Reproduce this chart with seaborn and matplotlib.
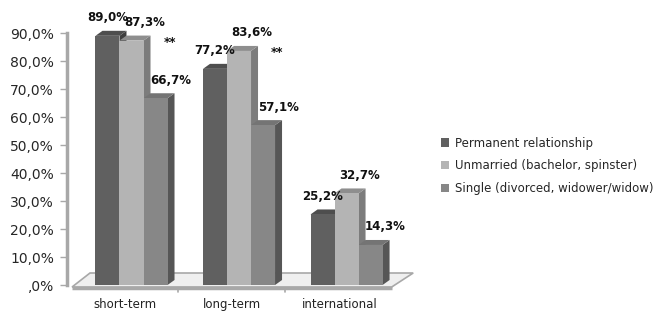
import matplotlib
matplotlib.use("Agg")
import matplotlib.pyplot as plt
import matplotlib.transforms as mtransforms
from matplotlib.patches import Polygon
import pandas as pd
import seaborn as sns

# dados
categories = ["short-term", "long-term", "international"]
groups = ["Permanent relationship", "Unmarried (bachelor, spinster)",
          "Single (divorced, widower/widow)"]
permanent = [89.0, 77.2, 25.2]
unmarried = [87.3, 83.6, 32.7]
single = [66.7, 57.1, 14.3]
signif = ["**", "**", ""]

front_cols = ["#606060", "#b4b4b4", "#878787"]
side_cols = ["#3f3f3f", "#7c7c7c", "#565656"]
top_cols = ["#4e4e4e", "#8e8e8e", "#747474"]

df = pd.DataFrame({
    "cat": categories * 3,
    "grp": [g for g in groups for _ in categories],
    "val": permanent + unmarried + single,
})

sns.set_style("white")
plt.rcParams["font.family"] = ["DejaVu Sans"]

fig = plt.figure(figsize=(6.61, 3.12), dpi=100)
ax = fig.add_axes([0.1176, 0.0865, 0.488, 0.8077])

sns.barplot(data=df, x="cat", y="val", hue="grp", order=categories,
            hue_order=groups, palette=front_cols, width=0.67,
            saturation=1, linewidth=0, ax=ax)
ax.set_xlim(-0.5, 2.5)
ax.set_ylim(0, 90)

# profundidade (px -> unidades)
ux = 3 / 322.5
uy = 90 / 252
dx, dy = 7 * ux, 5 * uy

# chao
floor = Polygon([(-0.553, -0.71), (2.42, -0.71), (2.62, 4.29), (-0.386, 4.29)],
                closed=True, facecolor="#efefef", edgecolor="#a8a8a8",
                linewidth=1.2, clip_on=False, zorder=0.5)
ax.add_patch(floor)
ax.plot([-0.553, 2.42], [-0.9, -0.9], color="#a8a8a8", lw=2.5,
        clip_on=False, zorder=0.6, solid_capstyle="butt")
for xs in [0.43, 1.43]:
    ax.plot([xs, xs], [-0.9, -2.6], color="#a8a8a8", lw=1.2, clip_on=False)

label_dx = [0, 13, 15]
for k, cont in enumerate(ax.containers):
    for j, p in enumerate(cont.patches):
        x0 = p.get_x()
        x1 = x0 + p.get_width()
        h = p.get_height()
        p.set_zorder(2)
        side = Polygon([(x1, 0), (x1 + dx, dy), (x1 + dx, h + dy), (x1, h)],
                       closed=True, facecolor=side_cols[k], edgecolor="none",
                       zorder=1.9, clip_on=False)
        top = Polygon([(x0, h), (x1, h), (x1 + dx, h + dy), (x0 + dx, h + dy)],
                      closed=True, facecolor=top_cols[k], edgecolor="none",
                      zorder=1.9, clip_on=False)
        ax.add_patch(side)
        ax.add_patch(top)
        txt = f"{h:.1f}%".replace(".", ",")
        ax.annotate(txt, ((x0 + x1) / 2, h), xytext=(label_dx[k], 18),
                    textcoords="offset pixels", ha="center", va="center",
                    fontsize=8.5, fontweight="bold", color="#111111",
                    annotation_clip=False, zorder=5)

# asteriscos
for j, s in enumerate(signif):
    if not s:
        continue
    p = ax.containers[2].patches[j]
    xc = p.get_x() + p.get_width() / 2
    ax.annotate(s, (xc, unmarried[j]), xytext=(14, -2), textcoords="offset pixels",
                ha="center", va="center", fontsize=8.5, fontweight="bold",
                color="#111111", annotation_clip=False)

# eixos
yt = list(range(0, 91, 10))
ax.set_yticks(yt)
ax.set_yticklabels([",0%" if v == 0 else f"{v:.1f}%".replace(".", ",") for v in yt],
                   fontsize=10, color="#222222")
ax.tick_params(axis="y", length=5, width=1, color="#a8a8a8", pad=4, left=True)
ax.spines["left"].set_position(("outward", 8))
ax.spines["left"].set_color("#a8a8a8")
ax.spines["left"].set_linewidth(2.5)
for s in ["top", "right", "bottom"]:
    ax.spines[s].set_visible(False)

ax.set_xticks(range(len(categories)))
ax.set_xticklabels(categories, fontsize=8.5, color="#222222")
ax.tick_params(axis="x", length=0, pad=9)
shift = mtransforms.ScaledTranslation(-7 / 100, 0, fig.dpi_scale_trans)
for lab in ax.get_xticklabels():
    lab.set_transform(lab.get_transform() + shift)
ax.set_xlabel("")
ax.set_ylabel("")

handles, labels = ax.get_legend_handles_labels()
ax.get_legend().remove()
fig.legend(handles, labels, loc="upper left", bbox_to_anchor=(436 / 661, 1 - 132 / 312),
           frameon=False, fontsize=8.5, handlelength=0.7, handleheight=0.7,
           handletextpad=0.5, labelspacing=0.82, borderaxespad=0)

fig.savefig("out.png", dpi=100)
